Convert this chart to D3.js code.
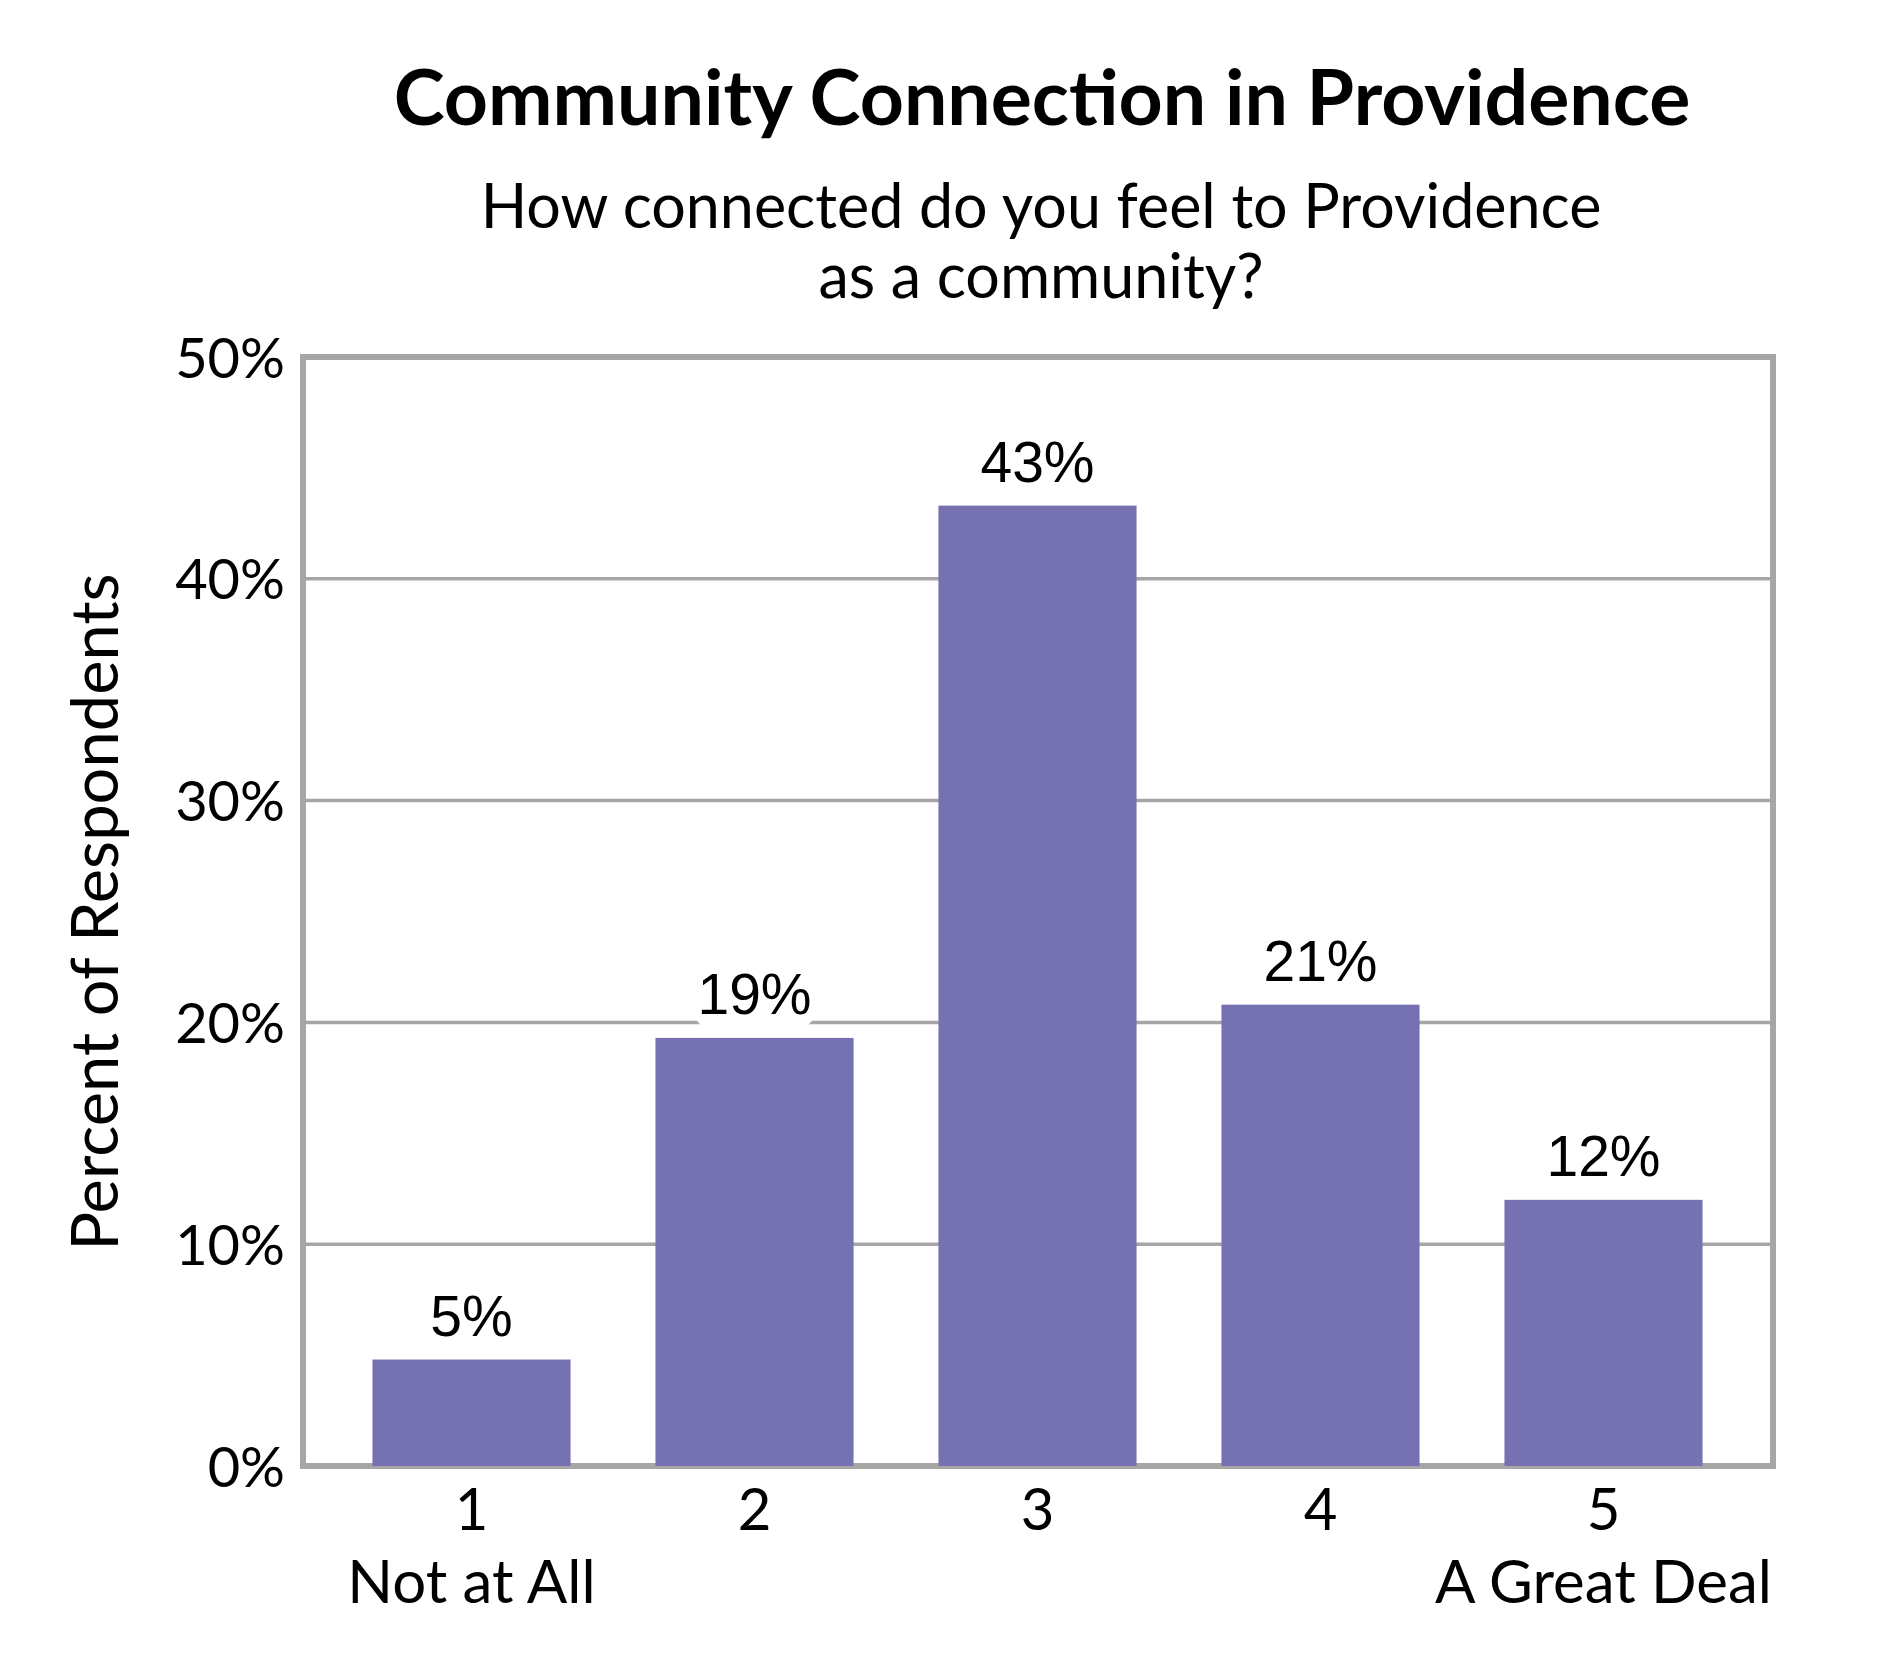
<!DOCTYPE html>
<html>
<head>
<meta charset="utf-8">
<script src="https://cdn.jsdelivr.net/npm/d3@7"></script>
<style>
  body { margin: 0; background: #fff; }
  svg text { fill: #000; }
</style>
</head>
<body>
<svg id="chart" width="1890" height="1680"></svg>
<script>
// values
var categories = ["1", "2", "3", "4", "5"];
var subLabels = ["Not at All", "", "", "", "A Great Deal"];
var percents = [4.8, 19.3, 43.3, 20.8, 12.0];
var valueLabels = ["5%", "19%", "43%", "21%", "12%"];
var yTicks = [0, 10, 20, 30, 40, 50];

var svg = d3.select("#chart");

var plotLeft = 303, plotRight = 1773, plotTop = 357, plotBottom = 1466;
var calibri = "Lato, 'Open Sans', sans-serif";

var x = d3.scaleBand()
    .domain(categories)
    .range([plotLeft + 27, plotRight - 28])
    .paddingInner(0.3)
    .paddingOuter(0.15);

var y = d3.scaleLinear()
    .domain([0, 50])
    .range([plotBottom, plotTop]);

// titles
svg.append("text")
    .attr("x", 1042).attr("y", 125)
    .attr("text-anchor", "middle")
    .style("font-family", calibri)
    .style("font-weight", "bold")
    .style("font-size", "77px")
    .text("Community Connection in Providence");

svg.append("text")
    .attr("x", 1041).attr("y", 228)
    .attr("text-anchor", "middle")
    .style("font-family", calibri)
    .style("font-size", "61px")
    .text("How connected do you feel to Providence");

svg.append("text")
    .attr("x", 1041).attr("y", 298)
    .attr("text-anchor", "middle")
    .style("font-family", calibri)
    .style("font-size", "61px")
    .text("as a community?");

// gridlines
svg.append("g")
    .selectAll("line")
    .data(yTicks.slice(1, -1))
    .join("line")
    .attr("x1", plotLeft).attr("x2", plotRight)
    .attr("y1", function(d) { return y(d); })
    .attr("y2", function(d) { return y(d); })
    .attr("stroke", "#a6a6a6")
    .attr("stroke-width", 3.5);

// y axis labels
var yAxis = d3.axisLeft(y)
    .tickValues(yTicks)
    .tickSize(0)
    .tickPadding(18)
    .tickFormat(function(d) { return d + "%"; });

var yg = svg.append("g")
    .attr("transform", "translate(" + plotLeft + ",0)")
    .call(yAxis);
yg.select(".domain").remove();
yg.selectAll("text")
    .style("font-family", calibri)
    .style("font-size", "56px")
    .attr("dy", "0.36em");

svg.append("text")
    .attr("transform", "translate(118,912) rotate(-90)")
    .attr("text-anchor", "middle")
    .style("font-family", calibri)
    .style("font-size", "65px")
    .text("Percent of Respondents");

// frame
svg.append("rect")
    .attr("x", plotLeft).attr("y", plotTop)
    .attr("width", plotRight - plotLeft)
    .attr("height", plotBottom - plotTop)
    .attr("fill", "none")
    .attr("stroke", "#a6a6a6")
    .attr("stroke-width", 6);

// bars
svg.append("g")
    .selectAll("rect")
    .data(percents)
    .join("rect")
    .attr("x", function(d, i) { return x(categories[i]); })
    .attr("y", function(d) { return y(d); })
    .attr("width", x.bandwidth())
    .attr("height", function(d) { return y(0) - y(d); })
    .attr("fill", "#7671b1");

// value labels with white rounded backing
var labels = svg.append("g")
    .selectAll("g")
    .data(percents)
    .join("g")
    .attr("transform", function(d, i) {
        return "translate(" + (x(categories[i]) + x.bandwidth() / 2) + "," + (y(d) - 24) + ")";
    });

labels.append("rect")
    .attr("x", -60).attr("y", -50)
    .attr("width", 120).attr("height", 64)
    .attr("rx", 16)
    .attr("fill", "#fff");

labels.append("text")
    .attr("text-anchor", "middle")
    .style("font-family", "'Liberation Sans', Arial, sans-serif")
    .style("font-size", "57px")
    .text(function(d, i) { return valueLabels[i]; });

// category labels
var xg = svg.append("g")
    .selectAll("g")
    .data(categories)
    .join("g")
    .attr("transform", function(d) { return "translate(" + (x(d) + x.bandwidth() / 2) + ",0)"; });

xg.append("text")
    .attr("y", 1530)
    .attr("text-anchor", "middle")
    .style("font-family", calibri)
    .style("font-size", "58px")
    .text(function(d) { return d; });

xg.append("text")
    .attr("y", 1603)
    .attr("text-anchor", "middle")
    .style("font-family", calibri)
    .style("font-size", "60px")
    .text(function(d, i) { return subLabels[i]; });
</script>
</body>
</html>
